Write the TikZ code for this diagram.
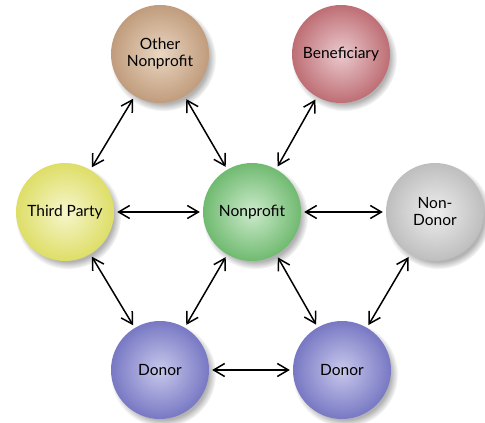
\documentclass[tikz,border=0pt]{standalone}
\usepackage{fontspec}
\setmainfont{Lato}
\usepackage{tikz}
\usetikzlibrary{shapes.geometric, arrows.meta, shadows, positioning}
\definecolor{tanout}{RGB}{192,156,124}
\definecolor{tanin}{RGB}{234,214,194}
\definecolor{roseout}{RGB}{190,110,116}
\definecolor{rosein}{RGB}{234,202,206}
\definecolor{yellowout}{RGB}{222,222,104}
\definecolor{yellowin}{RGB}{246,246,204}
\definecolor{greenout}{RGB}{112,186,112}
\definecolor{greenin}{RGB}{204,234,204}
\definecolor{greyout}{RGB}{190,190,190}
\definecolor{greyin}{RGB}{238,238,238}
\definecolor{donorout}{RGB}{120,120,196}
\definecolor{donorin}{RGB}{200,200,236}
\tikzstyle{party} = [circle, shading=radial, minimum size=98pt, inner sep=0pt, align=center, text=black, font=\fontsize{15.5}{17}\selectfont, circular drop shadow={shadow xshift=3pt, shadow yshift=-4pt, shadow scale=1.08, opacity=0.6}]
\tikzstyle{link} = [line width=1.5pt, {Straight Barb[length=11pt,width=13pt]}-{Straight Barb[length=11pt,width=13pt]}, shorten <=3pt, shorten >=3pt]

\begin{document}
\begin{tikzpicture}[node distance = 158pt and 92pt, on grid]
		\useasboundingbox (-252pt,-211pt) rectangle (233pt,212pt);
		\node (Nonprofit) [party, inner color=greenin, outer color=greenout] {Nonprofit};
		\node (ThirdParty) [party, inner color=yellowin, outer color=yellowout, left = 187pt of Nonprofit] {Third Party};
		\node (NonDonor) [party, inner color=greyin, outer color=greyout, right = 183pt of Nonprofit] {Non-\\Donor};
		\node (OtherNonprofit) [party, inner color=tanin, outer color=tanout, above left = of Nonprofit] {Other\\Nonprofit};
		\node (Beneficiary) [party, inner color=rosein, outer color=roseout, above right = 158pt and 89pt of Nonprofit] {Beneficiary};
		\node (DonorLeft) [party, inner color=donorin, outer color=donorout, below left = of Nonprofit] {Donor};
		\node (DonorRight) [party, inner color=donorin, outer color=donorout, below right = 158pt and 90pt of Nonprofit] {Donor};

		\draw [link] (OtherNonprofit) -- (ThirdParty);
		\draw [link] (OtherNonprofit) -- (Nonprofit);
		\draw [link] (Beneficiary) -- (Nonprofit);
		\draw [link] (ThirdParty) -- (Nonprofit);
		\draw [link] (Nonprofit) -- (NonDonor);
		\draw [link] (ThirdParty) -- (DonorLeft);
		\draw [link] (Nonprofit) -- (DonorLeft);
		\draw [link] (Nonprofit) -- (DonorRight);
		\draw [link] (NonDonor) -- (DonorRight);
		\draw [link] (DonorLeft) -- (DonorRight);
\end{tikzpicture}
\end{document}
